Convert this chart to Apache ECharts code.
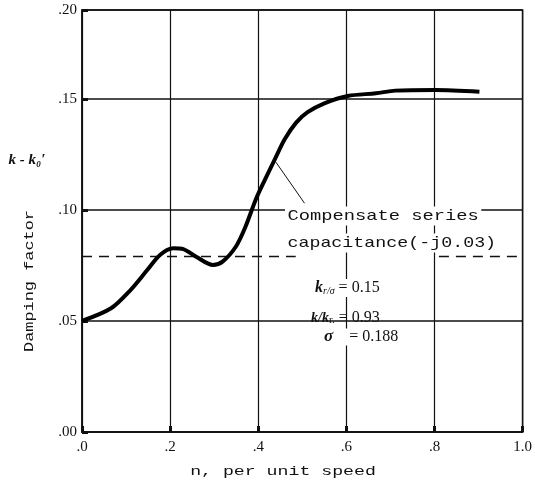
<!DOCTYPE html>
<html>
<head>
<meta charset="utf-8">
<script src="https://cdn.jsdelivr.net/npm/echarts@6/dist/echarts.min.js"></script>
<style>
  html, body { margin: 0; padding: 0; background: #fff; }
  #main { width: 535px; height: 488px; }
</style>
</head>
<body>
<div id="main"></div>
<script>
// tick labels as printed on the scan
var xTickLabels = [".0", ".2", ".4", ".6", ".8", "1.0"];
var yTickLabels = [".00", ".05", ".10", ".15", ".20"];

// damping factor curve
var speed = [0, 0.066, 0.110, 0.148, 0.177, 0.207, 0.230, 0.259, 0.297, 0.319, 0.349, 0.371,
  0.394, 0.415, 0.437, 0.460, 0.486, 0.512, 0.550, 0.603, 0.667, 0.711, 0.801, 0.902];
var damping = [0.0500, 0.0557, 0.0639, 0.0729, 0.0797, 0.0827, 0.0823, 0.0789, 0.0752, 0.0767, 0.0834, 0.0924,
  0.1045, 0.1135, 0.1225, 0.1318, 0.1393, 0.1440, 0.1480, 0.1513, 0.1525, 0.1537, 0.1540, 0.1532];

// dashed reference level (two pieces, broken by the note)
var refLevel = 0.079;
var refLeft = [0, 0.485];
var refRight = [0.81, 1.0];

// arrow from the note to the curve
var arrowFrom = [0.505, 0.103];
var arrowTo = [0.440, 0.1215];

var curve = speed.map(function (x, i) { return [x, damping[i]]; });

var myChart = echarts.init(document.getElementById("main"));

var mono = "Liberation Mono";
var serif = "Liberation Serif";

myChart.setOption({
  animation: false,
  backgroundColor: "#fff",
  grid: {
    left: 82, right: 10, top: 10, bottom: 56,
    show: true, borderColor: "#111", borderWidth: 1.5
  },
  xAxis: {
    type: "value",
    min: 0, max: 1, interval: 0.2,
    axisLine: { lineStyle: { color: "#111", width: 1.5 } },
    axisTick: { inside: true, length: 6, lineStyle: { color: "#111", width: 3 } },
    axisLabel: {
      margin: 8,
      color: "#111", fontFamily: serif, fontSize: 15,
      formatter: function (v) { return xTickLabels[Math.round(v / 0.2)]; }
    },
    splitLine: { lineStyle: { color: "#111", width: 1.2 } }
  },
  yAxis: {
    type: "value",
    min: 0, max: 0.19, interval: 0.05,
    axisLine: { lineStyle: { color: "#111", width: 1.5 } },
    axisTick: { inside: true, length: 6, lineStyle: { color: "#111", width: 3 } },
    axisLabel: {
      margin: 5,
      color: "#111", fontFamily: serif, fontSize: 15,
      formatter: function (v) { return yTickLabels[Math.round(v / 0.05)]; }
    },
    splitLine: { lineStyle: { color: "#111", width: 1.5 } }
  },
  series: [
    {
      type: "line",
      data: curve,
      smooth: 0.3,
      showSymbol: false,
      lineStyle: { color: "#000", width: 4 },
      z: 5,
      markLine: {
        silent: true,
        symbol: ["none", "arrow"],
        symbolSize: [0, 7],
        label: { show: false },
        lineStyle: { color: "#111", width: 1, type: "solid" },
        data: [[{ coord: arrowFrom }, { coord: arrowTo }]]
      }
    },
    {
      type: "line",
      data: [[refLeft[0], refLevel], [refLeft[1], refLevel]],
      showSymbol: false,
      lineStyle: { color: "#111", width: 1.5, type: [10, 7] }
    },
    {
      type: "line",
      data: [[refRight[0], refLevel], [refRight[1], refLevel]],
      showSymbol: false,
      lineStyle: { color: "#111", width: 1.5, type: [10, 7] }
    }
  ],
  graphic: [
    {
      type: "text", x: 285, y: 216, scaleX: 1.25, z: 20,
      style: {
        text: "Compensate series", fill: "#111",
        font: "15px " + mono, verticalAlign: "middle",
        backgroundColor: "#fff", padding: [2, 2]
      }
    },
    {
      type: "text", x: 285, y: 243, scaleX: 1.22, z: 20,
      style: {
        text: "capacitance(-j0.03)", fill: "#111",
        font: "15px " + mono, verticalAlign: "middle",
        backgroundColor: "#fff", padding: [2, 2]
      }
    },
    {
      type: "text", x: 313, y: 288, z: 20,
      style: {
        text: "{k|k}{s|r/σ} = 0.15", fill: "#111",
        font: "16px " + serif, verticalAlign: "middle",
        backgroundColor: "#fff", padding: [1, 2],
        rich: {
          k: { font: "italic bold 16px " + serif },
          s: { font: "italic 10px " + serif, padding: [6, 0, 0, 0] }
        }
      }
    },
    {
      type: "text", x: 311, y: 318, z: 20,
      style: {
        text: "{k|k/k}{s|r.} = 0.93", fill: "#111",
        font: "16px " + serif, verticalAlign: "middle",
        rich: {
          k: { font: "italic bold 14px " + serif },
          s: { font: "11px " + serif, padding: [4, 0, 0, 0] }
        }
      }
    },
    {
      type: "text", x: 322, y: 337, z: 20,
      style: {
        text: "{k|σ}    = 0.188", fill: "#111",
        font: "16px " + serif, verticalAlign: "middle",
        backgroundColor: "#fff", padding: [0, 2],
        rich: { k: { font: "italic bold 17px " + serif } }
      }
    },
    {
      type: "text", x: 27, y: 160, z: 20,
      style: {
        text: "k - k₀′", fill: "#111",
        font: "italic bold 15px " + serif,
        align: "center", verticalAlign: "middle"
      }
    },
    {
      type: "text", x: 30, y: 281, rotation: Math.PI / 2, scaleX: 1.3, z: 20,
      style: {
        text: "Damping factor", fill: "#111",
        font: "13px " + mono,
        align: "center", verticalAlign: "middle"
      }
    },
    {
      type: "text", x: 283, y: 472, scaleX: 1.4, z: 20,
      style: {
        text: "n, per unit speed", fill: "#111",
        font: "13px " + mono,
        align: "center", verticalAlign: "middle"
      }
    }
  ]
});
</script>
</body>
</html>
